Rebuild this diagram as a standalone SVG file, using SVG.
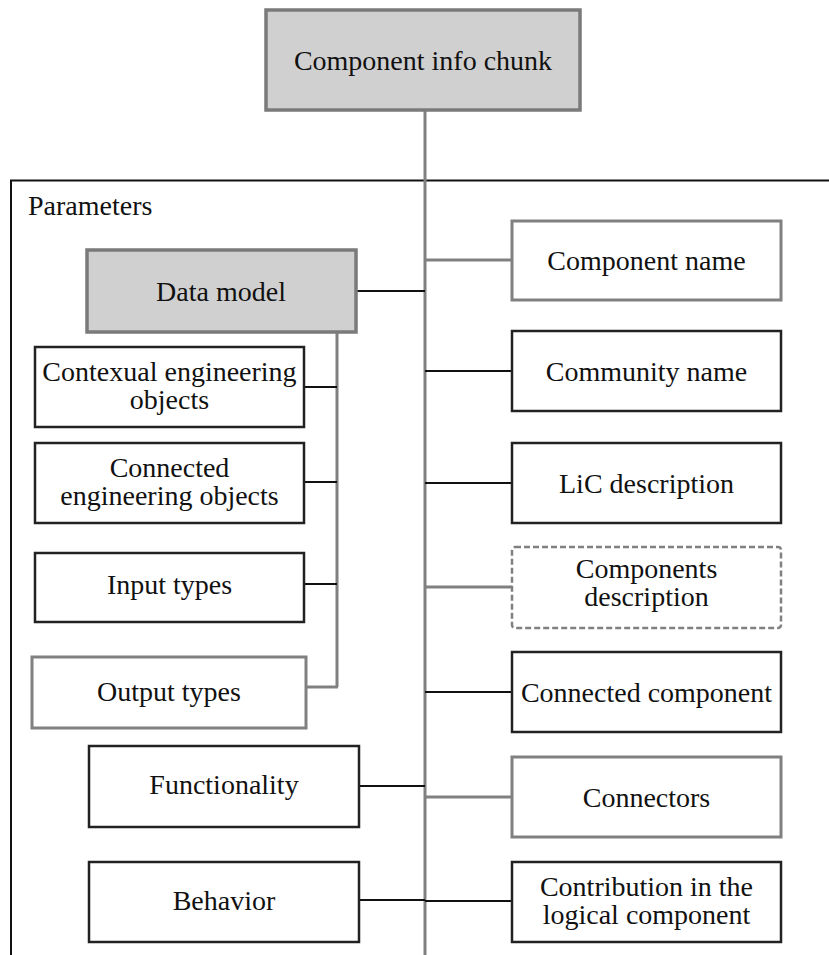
<svg xmlns="http://www.w3.org/2000/svg" width="829" height="955" viewBox="0 0 829 955">
<style>
text{font-family:"Liberation Serif","Times New Roman",serif;font-size:28px;fill:#111;text-anchor:middle}
.b{fill:#fff;stroke:#222;stroke-width:2.5}
.g{fill:#fff;stroke:#808080;stroke-width:3}
.hd{fill:#d0d0d0;stroke:#7a7a7a;stroke-width:3.5}
.dash{fill:#fff;stroke:#808080;stroke-width:2.5;stroke-dasharray:6 3}
.lk{stroke:#111;stroke-width:2;fill:none}
.lg{stroke:#808080;stroke-width:3;fill:none}
</style>
<g id="frame">
<path d="M11,955 V180.5 H829" fill="none" stroke="#111" stroke-width="2"/>
<text x="28" y="215" style="text-anchor:start">Parameters</text>
</g>
<g id="connectors">
<line class="lg" x1="425" y1="110" x2="425" y2="955"/>
<line class="lk" x1="356" y1="291" x2="425" y2="291"/>
<line class="lg" x1="337" y1="332" x2="337" y2="687"/>
<line class="lk" x1="304" y1="387" x2="337" y2="387"/>
<line class="lk" x1="304" y1="482" x2="337" y2="482"/>
<line class="lk" x1="304" y1="584" x2="337" y2="584"/>
<line class="lg" x1="306" y1="687" x2="338" y2="687"/>
<line class="lk" x1="359" y1="786" x2="425" y2="786"/>
<line class="lk" x1="359" y1="900" x2="425" y2="900"/>
<line class="lg" x1="425" y1="260" x2="512" y2="260"/>
<line class="lk" x1="425" y1="371" x2="512" y2="371"/>
<line class="lk" x1="425" y1="483" x2="512" y2="483"/>
<line class="lg" x1="425" y1="587" x2="512" y2="587"/>
<line class="lk" x1="425" y1="692" x2="512" y2="692"/>
<line class="lg" x1="425" y1="797" x2="512" y2="797"/>
<line class="lk" x1="425" y1="901" x2="512" y2="901"/>
</g>
<g id="component-info-chunk"><rect class="hd" x="266" y="10" width="314" height="100"/><text x="423" y="70">Component info chunk</text></g>
<g id="data-model"><rect class="hd" x="87" y="250" width="269" height="82"/><text x="221" y="301">Data model</text></g>
<g id="contexual"><rect class="b" x="35" y="347" width="269" height="80"/><text x="169.5" y="381">Contexual engineering</text><text x="169.5" y="409">objects</text></g>
<g id="connected-eng"><rect class="b" x="35" y="443" width="269" height="80"/><text x="169.5" y="477">Connected</text><text x="169.5" y="505">engineering objects</text></g>
<g id="input-types"><rect class="b" x="35" y="553" width="269" height="69"/><text x="169.5" y="594">Input types</text></g>
<g id="output-types"><rect class="g" x="32" y="657" width="274" height="71"/><text x="169" y="701">Output types</text></g>
<g id="functionality"><rect class="b" x="89" y="746" width="270" height="81"/><text x="224" y="794">Functionality</text></g>
<g id="behavior"><rect class="b" x="89" y="862" width="270" height="80"/><text x="224" y="910">Behavior</text></g>
<g id="component-name"><rect class="g" x="512" y="221" width="269" height="79"/><text x="646.5" y="270">Component name</text></g>
<g id="community-name"><rect class="b" x="512" y="331" width="269" height="80"/><text x="646.5" y="381">Community name</text></g>
<g id="lic-description"><rect class="b" x="512" y="443" width="269" height="80"/><text x="646.5" y="493">LiC description</text></g>
<g id="components-description"><rect class="dash" x="512" y="547" width="269" height="81" rx="3"/><text x="646.5" y="578">Components</text><text x="646.5" y="606">description</text></g>
<g id="connected-component"><rect class="b" x="512" y="652" width="269" height="80"/><text x="646.5" y="702">Connected component</text></g>
<g id="connectors-node"><rect class="g" x="512" y="757" width="269" height="80"/><text x="646.5" y="807">Connectors</text></g>
<g id="contribution"><rect class="b" x="512" y="862" width="269" height="80"/><text x="646.5" y="896">Contribution in the</text><text x="646.5" y="924">logical component</text></g>
</svg>
